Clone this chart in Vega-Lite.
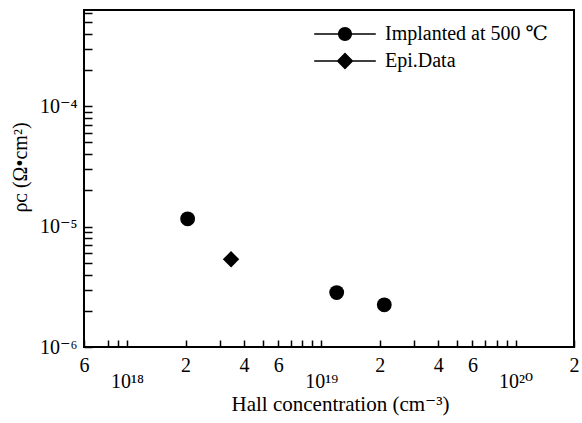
{
  "$schema": "https://vega.github.io/schema/vega-lite/v6.json",
  "width": 490,
  "height": 337,
  "autosize": {"type": "none"},
  "padding": {"left": 84, "top": 10, "right": 8, "bottom": 76},
  "background": "white",
  "config": {
    "font": "Liberation Serif, DejaVu Serif, serif",
    "view": {"stroke": "black", "strokeWidth": 2},
    "axis": {
      "grid": false,
      "domain": false,
      "tickColor": "black",
      "tickWidth": 1.5,
      "labelColor": "black",
      "titleColor": "black",
      "labelFont": "Liberation Serif, DejaVu Serif, serif",
      "titleFont": "Liberation Serif, DejaVu Serif, serif",
      "labelFontSize": 20,
      "titleFontSize": 20,
      "titleFontWeight": "normal",
      "labelOverlap": false,
      "labelBound": false,
      "labelFlush": false
    }
  },
  "data": {
    "values": [
      {"n": 2.05e18, "rho": 1.16e-5, "series": "Implanted at 500 ℃"},
      {"n": 3.43e18, "rho": 5.35e-6, "series": "Epi.Data"},
      {"n": 1.2e19, "rho": 2.83e-6, "series": "Implanted at 500 ℃"},
      {"n": 2.11e19, "rho": 2.24e-6, "series": "Implanted at 500 ℃"}
    ]
  },
  "encoding": {
    "y": {
      "field": "rho",
      "type": "quantitative",
      "scale": {"type": "log", "domain": [1e-6, 6.3e-4], "nice": false},
      "axis": {
        "values": [1e-6, 2e-6, 3e-6, 4e-6, 5e-6, 6e-6, 7e-6, 8e-6, 9e-6, 1e-5, 2e-5, 3e-5, 4e-5, 5e-5, 6e-5, 7e-5, 8e-5, 9e-5, 1e-4, 2e-4, 3e-4, 4e-4, 5e-4, 6e-4],
        "tickSize": -8,
        "labelPadding": 15,
        "labelExpr": "abs(log(datum.value)/LN10 + 6) < 0.01 ? '10⁻⁶' : abs(log(datum.value)/LN10 + 5) < 0.01 ? '10⁻⁵' : abs(log(datum.value)/LN10 + 4) < 0.01 ? '10⁻⁴' : ''",
        "title": "ρᴄ (Ω•cm²)",
        "titleAngle": -90,
        "titleX": -58,
        "titleY": 157,
        "titleAlign": "center",
        "titleBaseline": "alphabetic"
      }
    }
  },
  "layer": [
    {
      "mark": {"type": "point", "filled": true, "color": "black", "opacity": 1},
      "encoding": {
        "x": {
          "field": "n",
          "type": "quantitative",
          "scale": {"type": "log", "domain": [6e17, 2e20], "nice": false},
          "axis": {
            "values": [6e17, 8e17, 9e17, 1e18, 2e18, 3e18, 4e18, 5e18, 6e18, 7e18, 8e18, 9e18, 1e19, 2e19, 3e19, 4e19, 5e19, 6e19, 7e19, 8e19, 9e19, 1e20, 2e20],
            "tickSize": -7,
            "labelPadding": 15,
            "labelExpr": "indexof([2,4,6], round(datum.value / pow(10, floor(log(datum.value)/LN10 + 1e-9)))) >= 0 ? format(round(datum.value / pow(10, floor(log(datum.value)/LN10 + 1e-9))), 'd') : ''",
            "title": "Hall concentration (cm⁻³)",
            "titleFontSize": 21,
            "titleX": 256,
            "titleY": 63,
            "titleBaseline": "alphabetic"
          }
        },
        "shape": {
          "field": "series",
          "type": "nominal",
          "scale": {"domain": ["Implanted at 500 ℃", "Epi.Data"], "range": ["circle", "diamond"]},
          "legend": null
        },
        "size": {
          "field": "series",
          "type": "nominal",
          "scale": {"domain": ["Implanted at 500 ℃", "Epi.Data"], "range": [220, 270]},
          "legend": null
        }
      }
    },
    {
      "transform": [{"filter": "false"}],
      "mark": {"type": "point", "filled": true, "fill": "black", "stroke": "black", "strokeWidth": 0},
      "encoding": {
        "x": {
          "field": "n",
          "type": "quantitative",
          "axis": {
            "orient": "bottom",
            "values": [1e18, 1e19, 1e20],
            "ticks": false,
            "domain": false,
            "labelPadding": 24,
            "labelDx": 12,
            "labelExpr": "datum.value < 5e18 ? '10¹⁸' : datum.value < 5e19 ? '10¹⁹' : '10²⁰'",
            "title": null
          }
        },
        "shape": {
          "field": "series",
          "type": "nominal",
          "scale": {
            "domain": ["Implanted at 500 ℃", "Epi.Data"],
            "range": ["M-4.4,-0.12H4.4V0.12H-4.4ZM1,0A1,1,0,1,1,-1,0A1,1,0,1,1,1,0Z", "M-4.4,-0.12H4.4V0.12H-4.4ZM0,-1.2L1.2,0L0,1.2L-1.2,0Z"]
          },
          "legend": {
            "orient": "none",
            "legendX": 251,
            "legendY": 14,
            "title": null,
            "symbolSize": 196,
            "symbolFillColor": "black",
            "symbolStrokeColor": "black",
            "symbolStrokeWidth": 0,
            "symbolOpacity": 1,
            "labelFontSize": 20,
            "labelFont": "Liberation Serif, DejaVu Serif, serif",
            "labelColor": "black",
            "labelOffset": 30,
            "rowPadding": 7,
            "labelLimit": 300
          }
        }
      }
    }
  ],
  "resolve": {"scale": {"shape": "independent"}, "axis": {"x": "independent"}}
}
